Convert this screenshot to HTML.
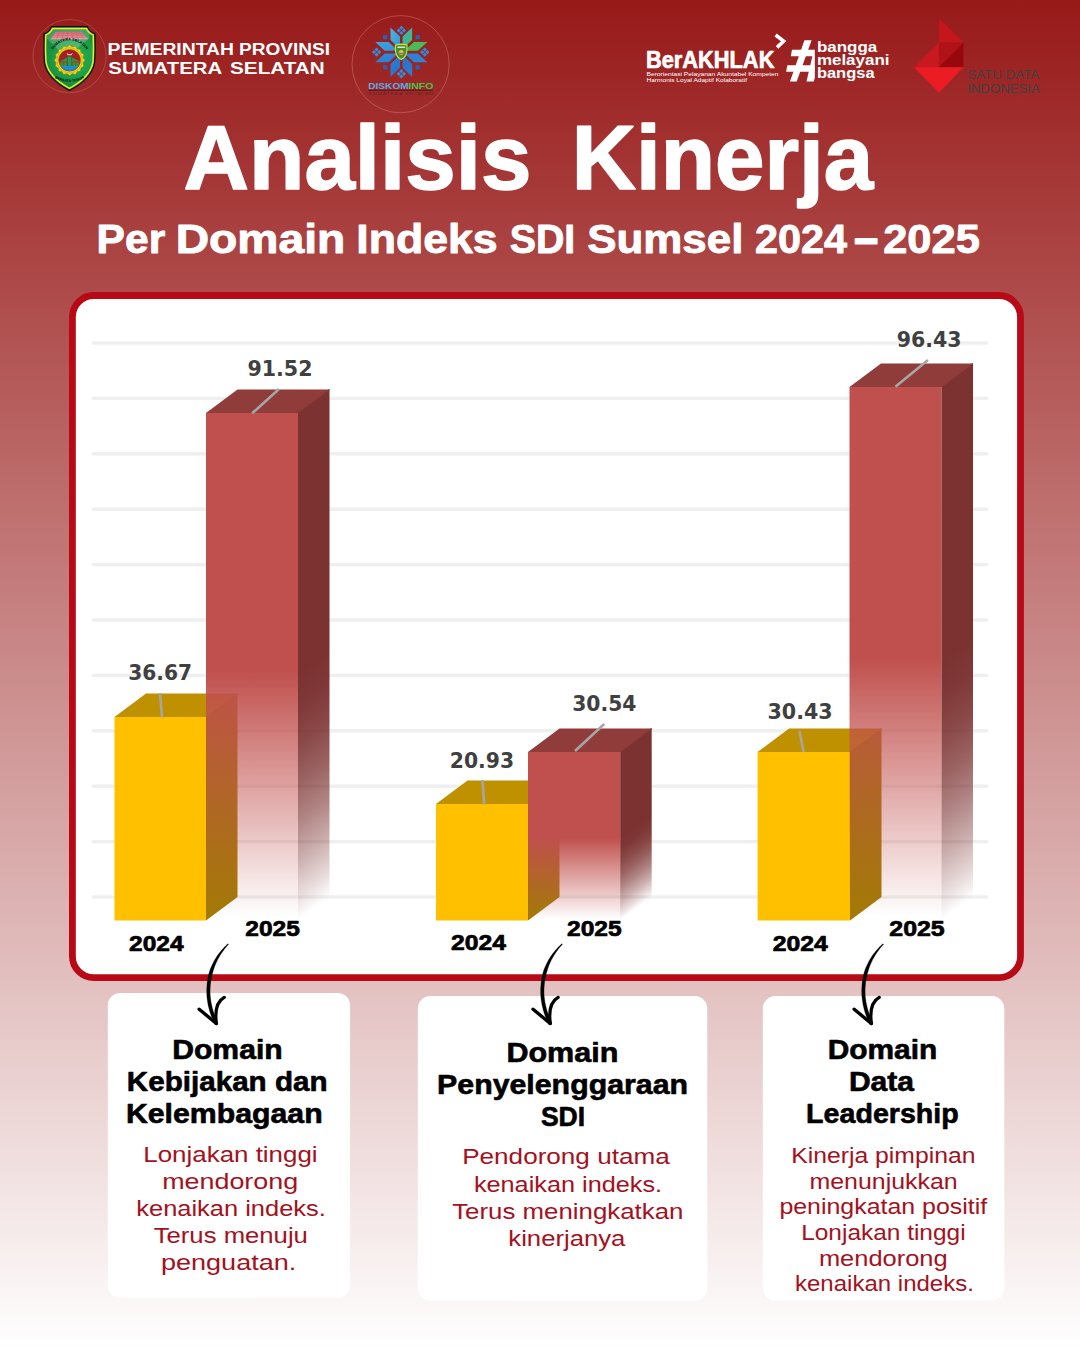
<!DOCTYPE html>
<html lang="id">
<head>
<meta charset="utf-8">
<title>Analisis Kinerja Per Domain Indeks SDI Sumsel 2024-2025</title>
<style>
html,body{margin:0;padding:0;}
body{width:1080px;height:1350px;overflow:hidden;background:#fff;font-family:"Liberation Sans",sans-serif;}
#poster{position:relative;width:1080px;height:1350px;overflow:hidden;background:linear-gradient(180deg,#971918 0%,#ffffff 100%);}
#poster svg{position:absolute;left:0;top:0;display:block;}
text{white-space:pre;}
</style>
</head>
<body>
<div id="poster">
<svg width="1080" height="1350" viewBox="0 0 1080 1350">

<defs>
<linearGradient id="rf0" gradientUnits="userSpaceOnUse" x1="0" y1="670.9" x2="0" y2="916.5"><stop offset="0" stop-color="#c0504d" stop-opacity="1"/><stop offset="1" stop-color="#c0504d" stop-opacity="0"/></linearGradient>
<linearGradient id="rs0" gradientUnits="userSpaceOnUse" x1="298.0" y1="670.9" x2="417.9" y2="830.7"><stop offset="0.00" stop-color="#7b3231" stop-opacity="1.000"/><stop offset="0.15" stop-color="#7b3231" stop-opacity="0.967"/><stop offset="0.30" stop-color="#7b3231" stop-opacity="0.885"/><stop offset="0.45" stop-color="#7b3231" stop-opacity="0.762"/><stop offset="0.60" stop-color="#7b3231" stop-opacity="0.601"/><stop offset="0.75" stop-color="#7b3231" stop-opacity="0.404"/><stop offset="0.90" stop-color="#7b3231" stop-opacity="0.173"/><stop offset="1.00" stop-color="#7b3231" stop-opacity="0.000"/></linearGradient>
<linearGradient id="rf1" gradientUnits="userSpaceOnUse" x1="0" y1="837.6" x2="0" y2="919.3"><stop offset="0" stop-color="#c0504d" stop-opacity="1"/><stop offset="1" stop-color="#c0504d" stop-opacity="0"/></linearGradient>
<linearGradient id="rs1" gradientUnits="userSpaceOnUse" x1="620.2" y1="837.6" x2="660.0" y2="890.7"><stop offset="0.00" stop-color="#7b3231" stop-opacity="1.000"/><stop offset="0.15" stop-color="#7b3231" stop-opacity="0.967"/><stop offset="0.30" stop-color="#7b3231" stop-opacity="0.885"/><stop offset="0.45" stop-color="#7b3231" stop-opacity="0.762"/><stop offset="0.60" stop-color="#7b3231" stop-opacity="0.601"/><stop offset="0.75" stop-color="#7b3231" stop-opacity="0.404"/><stop offset="0.90" stop-color="#7b3231" stop-opacity="0.173"/><stop offset="1.00" stop-color="#7b3231" stop-opacity="0.000"/></linearGradient>
<linearGradient id="rf2" gradientUnits="userSpaceOnUse" x1="0" y1="658.1" x2="0" y2="916.3"><stop offset="0" stop-color="#c0504d" stop-opacity="1"/><stop offset="1" stop-color="#c0504d" stop-opacity="0"/></linearGradient>
<linearGradient id="rs2" gradientUnits="userSpaceOnUse" x1="941.5" y1="658.1" x2="1067.5" y2="826.1"><stop offset="0.00" stop-color="#7b3231" stop-opacity="1.000"/><stop offset="0.15" stop-color="#7b3231" stop-opacity="0.967"/><stop offset="0.30" stop-color="#7b3231" stop-opacity="0.885"/><stop offset="0.45" stop-color="#7b3231" stop-opacity="0.762"/><stop offset="0.60" stop-color="#7b3231" stop-opacity="0.601"/><stop offset="0.75" stop-color="#7b3231" stop-opacity="0.404"/><stop offset="0.90" stop-color="#7b3231" stop-opacity="0.173"/><stop offset="1.00" stop-color="#7b3231" stop-opacity="0.000"/></linearGradient>
</defs>
<defs><radialGradient id="shg" gradientUnits="userSpaceOnUse" cx="74" cy="58" r="34"><stop offset="0" stop-color="#22b45c"/><stop offset="0.55" stop-color="#1ba04a"/><stop offset="1" stop-color="#148238"/></radialGradient><linearGradient id="roofg" x1="0" y1="0" x2="0" y2="1"><stop offset="0" stop-color="#c84a58"/><stop offset="1" stop-color="#ee8a96"/></linearGradient><linearGradient id="dk0" x1="0" y1="0" x2="1" y2="1"><stop offset="0" stop-color="#4fbf4f"/><stop offset="1" stop-color="#3fb860"/></linearGradient><linearGradient id="dk1" x1="0" y1="0" x2="1" y2="1"><stop offset="0" stop-color="#37b3c4"/><stop offset="1" stop-color="#45bb62"/></linearGradient><linearGradient id="dk2" x1="0" y1="0" x2="1" y2="1"><stop offset="0" stop-color="#46b4e6"/><stop offset="1" stop-color="#2f9bd8"/></linearGradient><linearGradient id="dk3" x1="0" y1="0" x2="1" y2="1"><stop offset="0" stop-color="#3aa6e2"/><stop offset="1" stop-color="#2f94d6"/></linearGradient><linearGradient id="dk4" x1="0" y1="0" x2="1" y2="1"><stop offset="0" stop-color="#2f8ad8"/><stop offset="1" stop-color="#2a7ed2"/></linearGradient><linearGradient id="dk5" x1="0" y1="0" x2="1" y2="1"><stop offset="0" stop-color="#2a7ed2"/><stop offset="1" stop-color="#2872c8"/></linearGradient><linearGradient id="dk6" x1="0" y1="0" x2="1" y2="1"><stop offset="0" stop-color="#2872c8"/><stop offset="1" stop-color="#2a7ed2"/></linearGradient><linearGradient id="dk7" x1="0" y1="0" x2="1" y2="1"><stop offset="0" stop-color="#2a80d6"/><stop offset="1" stop-color="#2b86d8"/></linearGradient></defs>
<g id="logos">
<g id="logo-sumsel">
<circle cx="69.6" cy="56.1" r="36.6" fill="none" stroke="#ffffff" stroke-opacity="0.16" stroke-width="1"/>
<path d="M51.6 26.6 L87.4 26.6 C88.6 30.2 91 32.6 94.9 33.6 C95.2 44 95.4 54 94.6 62.5 C92.6 74.5 82 84 69.5 90.4 C57 84 46.4 74.5 44.4 62.5 C43.6 54 43.8 44 44.1 33.6 C48 32.6 50.4 30.2 51.6 26.6 Z" fill="url(#shg)" stroke="#0c0c0c" stroke-width="1.2" stroke-linejoin="round"/>
<path d="M52.6 28.4 L86.4 28.4 C87.8 31.6 90 33.8 93.2 34.9 C93.5 44.5 93.6 54 92.9 62.2 C91 73.4 81 82.2 69.5 88.3 C58 82.2 48 73.4 46.1 62.2 C45.4 54 45.5 44.5 45.8 34.9 C49 33.8 51.2 31.6 52.6 28.4 Z" fill="none" stroke="#f2ea1c" stroke-width="1.5" stroke-linejoin="round"/>
<path d="M55.6 31.7 L81.1 31.7 L88.5 39.2 L50.7 39.2 Z" fill="url(#roofg)"/>
<path d="M54.4 33.6 H83 M52.8 35.5 H84.8 M51.6 37.3 H86.6 M59.6 31.7 L56.4 39.2 M63.6 31.7 L62 39.2 M67.6 31.7 L67.4 39.2 M71.6 31.7 L72.8 39.2 M75.6 31.7 L78.2 39.2 M79 31.7 L83.6 39.2" stroke="#b3303b" stroke-width="0.5" fill="none"/>
<path d="M46.6 35.4 C49.4 34.2 51.6 32 53 29.1 L86 29.1 C86.8 30.9 87.9 32.3 89.2 33.4 L89.2 38.5 L66 57 L46.6 38.5 Z" fill="#ffffff" fill-opacity="0.2"/>
<path id="arcS" d="M50.6 54.8 A19.6 19.6 0 0 1 88.4 54.8" fill="none"/>
<text font-size="3.7" font-weight="bold" fill="#000" font-family='"Liberation Sans", sans-serif' letter-spacing="0.1"><textPath href="#arcS" startOffset="50%" text-anchor="middle">SUMATERA SELATAN</textPath></text>
<polygon points="84.9,60.3 82.9,63.0 83.7,66.2 80.9,67.9 80.4,71.1 77.2,71.6 75.5,74.4 72.3,73.6 69.6,75.6 66.9,73.6 63.7,74.4 62.0,71.6 58.8,71.1 58.3,67.9 55.5,66.2 56.3,63.0 54.3,60.3 56.3,57.6 55.5,54.4 58.3,52.7 58.8,49.5 62.0,49.0 63.7,46.2 66.9,47.0 69.6,45.0 72.3,47.0 75.5,46.2 77.2,49.0 80.4,49.5 80.9,52.7 83.7,54.4 82.9,57.6" fill="#f0dc1e" stroke="#a47a10" stroke-width="0.5"/>
<circle cx="69.6" cy="60.3" r="12.6" fill="none" stroke="#c9a012" stroke-width="0.7"/>
<circle cx="69.6" cy="60.3" r="10.9" fill="#a81c24" stroke="#7a5b0a" stroke-width="0.5"/>
<clipPath id="ringclip"><circle cx="69.6" cy="60.3" r="10.6"/></clipPath>
<g clip-path="url(#ringclip)">
<rect x="58" y="66" width="24" height="6.2" fill="#1b97e6"/>
<path d="M59 67.6 H80 M59 69.4 H80" stroke="#0d5fb0" stroke-width="0.5" stroke-dasharray="1.1 0.7"/>
<rect x="58" y="61.4" width="24" height="2.1" fill="#e02028"/>
<path d="M59 61.4 L67.4 57.6 L67.4 61.4 Z M80.2 61.4 L71.8 57.6 L71.8 61.4 Z" fill="#1f9e4a"/>
<path d="M60 66 V63.8 A1.6 1.6 0 0 1 63.2 63.8 V66 Z M63.6 66 V63.8 A1.6 1.6 0 0 1 66.8 63.8 V66 Z M72.4 66 V63.8 A1.6 1.6 0 0 1 75.6 63.8 V66 Z M76 66 V63.8 A1.6 1.6 0 0 1 79.2 63.8 V66 Z" fill="#1f9e4a"/>
<rect x="67.7" y="56.4" width="3.8" height="9.6" fill="#22a04c" stroke="#0f6a2c" stroke-width="0.3"/>
<path d="M66.3 52.4 L67.6 55.2 H71.6 L72.9 52.4 L71 54 H68.2 Z" fill="#f3c9cc"/>
</g>
<path id="arcB" d="M53.6 77.6 Q69.5 86.4 85.4 77.6" fill="none"/>
<text font-size="3.6" font-weight="bold" fill="#000" font-family='"Liberation Sans", sans-serif'><textPath href="#arcB" startOffset="50%" text-anchor="middle">BERSATU TEGUH</textPath></text>
</g>
<text x="107.6" y="54.6" font-size="17.2" font-weight="bold" fill="#fff" font-family='"Liberation Sans", sans-serif' textLength="126.4" lengthAdjust="spacingAndGlyphs">PEMERINTAH</text>
<text x="239.1" y="54.6" font-size="17.2" font-weight="bold" fill="#fff" font-family='"Liberation Sans", sans-serif' textLength="91.0" lengthAdjust="spacingAndGlyphs">PROVINSI</text>
<text x="108.3" y="73.9" font-size="17.2" font-weight="bold" fill="#fff" font-family='"Liberation Sans", sans-serif' textLength="114.0" lengthAdjust="spacingAndGlyphs">SUMATERA</text>
<text x="230.1" y="73.9" font-size="17.2" font-weight="bold" fill="#fff" font-family='"Liberation Sans", sans-serif' textLength="94.5" lengthAdjust="spacingAndGlyphs">SELATAN</text>
<g id="logo-diskominfo">
<circle cx="400.6" cy="64.2" r="48.6" fill="none" stroke="#f4c9c9" stroke-opacity="0.3" stroke-width="0.9"/>
<polygon points="404.5,50.8 417.9,50.8 427.3,41.9 413.9,41.9" fill="url(#dk0)"/>
<polygon points="402.6,49.1 412.1,40.1 412.1,27.4 402.6,36.4" fill="url(#dk1)"/>
<polygon points="400.0,49.1 400.0,36.4 390.5,27.4 390.5,40.1" fill="url(#dk2)"/>
<polygon points="398.1,50.8 388.7,41.9 375.3,41.9 384.7,50.8" fill="url(#dk3)"/>
<polygon points="398.1,53.4 384.7,53.4 375.3,62.3 388.7,62.3" fill="url(#dk4)"/>
<polygon points="400.0,55.1 390.5,64.1 390.5,76.8 400.0,67.8" fill="url(#dk5)"/>
<polygon points="402.6,55.1 402.6,67.8 412.1,76.8 412.1,64.1" fill="url(#dk6)"/>
<polygon points="404.5,53.4 413.9,62.3 427.3,62.3 417.9,53.4" fill="url(#dk7)"/>
<rect x="383.0" y="35.1" width="4.2" height="4.2" fill="#2464b8"/>
<rect x="415.6" y="35.1" width="4.2" height="4.2" fill="#2464b8"/>
<rect x="383.0" y="65.2" width="4.2" height="4.2" fill="#2464b8"/>
<rect x="415.6" y="65.2" width="4.2" height="4.2" fill="#2464b8"/>
<rect x="399.80" y="26.30" width="3" height="3" fill="#2f8fdf" transform="rotate(45 401.30 27.80)"/>
<rect x="397.20" y="28.90" width="3" height="3" fill="#2f8fdf" transform="rotate(45 398.70 30.40)"/>
<rect x="402.40" y="28.90" width="3" height="3" fill="#2f8fdf" transform="rotate(45 403.90 30.40)"/>
<rect x="399.80" y="31.50" width="3" height="3" fill="#2f8fdf" transform="rotate(45 401.30 33.00)"/>
<rect x="375.10" y="48.00" width="3" height="3" fill="#2f8fdf" transform="rotate(45 376.60 49.50)"/>
<rect x="372.50" y="50.60" width="3" height="3" fill="#2f8fdf" transform="rotate(45 374.00 52.10)"/>
<rect x="377.70" y="50.60" width="3" height="3" fill="#2f8fdf" transform="rotate(45 379.20 52.10)"/>
<rect x="375.10" y="53.20" width="3" height="3" fill="#2f8fdf" transform="rotate(45 376.60 54.70)"/>
<rect x="423.20" y="48.00" width="3" height="3" fill="#2f8fdf" transform="rotate(45 424.70 49.50)"/>
<rect x="420.60" y="50.60" width="3" height="3" fill="#2f8fdf" transform="rotate(45 422.10 52.10)"/>
<rect x="425.80" y="50.60" width="3" height="3" fill="#2f8fdf" transform="rotate(45 427.30 52.10)"/>
<rect x="423.20" y="53.20" width="3" height="3" fill="#2f8fdf" transform="rotate(45 424.70 54.70)"/>
<rect x="399.80" y="69.70" width="3" height="3" fill="#2f8fdf" transform="rotate(45 401.30 71.20)"/>
<rect x="397.20" y="72.30" width="3" height="3" fill="#2f8fdf" transform="rotate(45 398.70 73.80)"/>
<rect x="402.40" y="72.30" width="3" height="3" fill="#2f8fdf" transform="rotate(45 403.90 73.80)"/>
<rect x="399.80" y="74.90" width="3" height="3" fill="#2f8fdf" transform="rotate(45 401.30 76.40)"/>
<g transform="translate(0.1,0.4)"><path d="M395.3 44.6 L401.1 43.7 L406.9 44.6 C407.1 50 406.6 54 405 56 C403.8 57.7 402.4 58.5 401.1 59.2 C399.8 58.5 398.4 57.7 397.2 56 C395.6 54 395.1 50 395.3 44.6 Z" fill="#2a9a3c" stroke="#dfe02a" stroke-width="1.1"/>
<path d="M397.6 46 H404.6 L405.2 47.6 H397 Z" fill="#e8e0d0"/>
<circle cx="401.1" cy="52" r="2.9" fill="#e4d21f" stroke="#b5322a" stroke-width="0.7"/>
<path d="M399 52.3 H403.2 V53.6 H399 Z" fill="#2f8fd6"/></g>
<text x="368.2" y="88.5" font-size="8.7" font-weight="bold" fill="#58abe4" font-family='"Liberation Sans", sans-serif' textLength="40.5" lengthAdjust="spacingAndGlyphs">DISKOM</text>
<text x="408.2" y="88.5" font-size="8.7" font-weight="bold" fill="#44c648" font-family='"Liberation Sans", sans-serif' textLength="25.3" lengthAdjust="spacingAndGlyphs">INFO</text>
<rect x="368.3" y="89.8" width="64.6" height="0.9" fill="#571115"/>
<text x="368.7" y="95.4" font-size="4.2" font-weight="normal" fill="#5c2327" font-family='"Liberation Sans", sans-serif' textLength="64.8" lengthAdjust="spacingAndGlyphs" letter-spacing="0.6" fill-opacity="0.9">SUMATERA SELATAN</text>
</g>
<g id="logo-berakhlak">
<text x="645.9" y="67.5" font-size="23.6" font-weight="bold" fill="#fff" font-family='"Liberation Sans", sans-serif' textLength="128.5" lengthAdjust="spacingAndGlyphs" stroke="#fff" stroke-width="0.7" stroke-linejoin="round">BerAKHLAK</text>
<path d="M775.6 35 L783.6 41.2 L777 47.4" fill="none" stroke="#fff" stroke-width="3.6" stroke-linejoin="miter"/>
<text x="646.5" y="75.6" font-size="5.1" font-weight="normal" fill="#fff" font-family='"Liberation Sans", sans-serif' textLength="132.0" lengthAdjust="spacingAndGlyphs">Berorientasi Pelayanan Akuntabel Kompeten</text>
<text x="646.5" y="82.0" font-size="5.1" font-weight="normal" fill="#fff" font-family='"Liberation Sans", sans-serif' textLength="100.5" lengthAdjust="spacingAndGlyphs">Harmonis Loyal Adaptif Kolaboratif</text>
<g fill="#fff"><polygon points="804.4,40.3 811.6,40.3 796.7,81.4 790,81.4"/><polygon points="792,49.7 814.8,49.7 814.8,56.2 790.8,56.2"/><polygon points="787.3,65.3 814.7,65.3 814.7,71.7 786.1,71.7"/><polygon points="812.4,56 814.8,56 814.8,77.8 813.8,81.4 806.5,81.4"/></g>
<text x="816.9" y="51.6" font-size="15.4" font-weight="bold" fill="#fff" font-family='"Liberation Sans", sans-serif' textLength="60.3" lengthAdjust="spacingAndGlyphs">bangga</text>
<text x="816.9" y="65.2" font-size="15.4" font-weight="bold" fill="#fff" font-family='"Liberation Sans", sans-serif' textLength="72.6" lengthAdjust="spacingAndGlyphs">melayani</text>
<text x="816.9" y="78.2" font-size="15.4" font-weight="bold" fill="#fff" font-family='"Liberation Sans", sans-serif' textLength="57.7" lengthAdjust="spacingAndGlyphs">bangsa</text>
</g>
<g id="logo-satudata">
<polygon points="938.9,17.9 963.5,42.5 938.9,42.5" fill="#c4161c"/>
<polygon points="938.9,42.5 963.5,42.5 938.9,67.2" fill="#b01217"/>
<polygon points="963.5,42.5 963.5,67.2 938.9,67.2" fill="#96080c"/>
<polygon points="938.9,42.5 938.9,67.2 914.1,67.2" fill="#c7191f"/>
<polygon points="914.1,67.2 963.5,67.2 938.9,92.7" fill="#ec1c24"/>
<text x="967.3" y="79.0" font-size="13.3" font-weight="normal" fill="#414042" font-family='"Liberation Sans", sans-serif' textLength="71.9" lengthAdjust="spacingAndGlyphs">SATU DATA</text>
<text x="967.2" y="93.0" font-size="13.3" font-weight="normal" fill="#414042" font-family='"Liberation Sans", sans-serif' textLength="72.5" lengthAdjust="spacingAndGlyphs">INDONESIA</text>
</g>
</g>
<g id="title">
<text x="183.5" y="188.9" font-size="90.5" font-weight="bold" fill="#fff" font-family='"Liberation Sans", sans-serif' textLength="347.9" lengthAdjust="spacingAndGlyphs" stroke="#fff" stroke-width="1.6" stroke-linejoin="round">Analisis</text>
<text x="571.8" y="188.9" font-size="90.5" font-weight="bold" fill="#fff" font-family='"Liberation Sans", sans-serif' textLength="301.3" lengthAdjust="spacingAndGlyphs" stroke="#fff" stroke-width="1.6" stroke-linejoin="round">Kinerja</text>
<text x="96.6" y="252.6" font-size="41" font-weight="bold" fill="#fff" font-family='"Liberation Sans", sans-serif' textLength="68.6" lengthAdjust="spacingAndGlyphs" stroke="#fff" stroke-width="0.9" stroke-linejoin="round">Per</text>
<text x="175.7" y="252.6" font-size="41" font-weight="bold" fill="#fff" font-family='"Liberation Sans", sans-serif' textLength="169.7" lengthAdjust="spacingAndGlyphs" stroke="#fff" stroke-width="0.9" stroke-linejoin="round">Domain</text>
<text x="356.3" y="252.6" font-size="41" font-weight="bold" fill="#fff" font-family='"Liberation Sans", sans-serif' textLength="141.4" lengthAdjust="spacingAndGlyphs" stroke="#fff" stroke-width="0.9" stroke-linejoin="round">Indeks</text>
<text x="509.7" y="252.6" font-size="41" font-weight="bold" fill="#fff" font-family='"Liberation Sans", sans-serif' textLength="65.6" lengthAdjust="spacingAndGlyphs" stroke="#fff" stroke-width="0.9" stroke-linejoin="round">SDI</text>
<text x="587.2" y="252.6" font-size="41" font-weight="bold" fill="#fff" font-family='"Liberation Sans", sans-serif' textLength="156.2" lengthAdjust="spacingAndGlyphs" stroke="#fff" stroke-width="0.9" stroke-linejoin="round">Sumsel</text>
<text x="755.0" y="252.6" font-size="41" font-weight="bold" fill="#fff" font-family='"Liberation Sans", sans-serif' textLength="92.0" lengthAdjust="spacingAndGlyphs" stroke="#fff" stroke-width="0.9" stroke-linejoin="round">2024</text>
<text x="852.3" y="252.6" font-size="46" font-weight="bold" fill="#fff" font-family='"Liberation Sans", sans-serif' textLength="27.9" lengthAdjust="spacingAndGlyphs" stroke="#fff" stroke-width="0.9" stroke-linejoin="round">-</text>
<text x="883.2" y="252.6" font-size="41" font-weight="bold" fill="#fff" font-family='"Liberation Sans", sans-serif' textLength="96.7" lengthAdjust="spacingAndGlyphs" stroke="#fff" stroke-width="0.9" stroke-linejoin="round">2025</text>
</g>
<g id="chart-panel">
<rect x="72.4" y="295.5" width="948.1" height="682.2" rx="21.5" fill="#fff" stroke="#b80916" stroke-width="6.8"/>
<rect x="92" y="341.3" width="896" height="3.4" fill="#efefef"/>
<rect x="92" y="396.7" width="896" height="3.4" fill="#efefef"/>
<rect x="92" y="452.1" width="896" height="3.4" fill="#efefef"/>
<rect x="92" y="507.5" width="896" height="3.4" fill="#efefef"/>
<rect x="92" y="562.9" width="896" height="3.4" fill="#efefef"/>
<rect x="92" y="618.3" width="896" height="3.4" fill="#efefef"/>
<rect x="92" y="673.7" width="896" height="3.4" fill="#efefef"/>
<rect x="92" y="729.1" width="896" height="3.4" fill="#efefef"/>
<rect x="92" y="784.5" width="896" height="3.4" fill="#efefef"/>
<rect x="92" y="839.9" width="896" height="3.4" fill="#efefef"/>
<rect x="92" y="895.3" width="896" height="3.4" fill="#efefef"/>
<path d="M206.0 717.0 L237.5 693.4" stroke="#b08505" stroke-width="1.2" fill="none"/>
<polygon points="114.5,717.0 206.0,717.0 206.0,920.6 114.5,920.6" fill="#ffc000"/>
<polygon points="114.5,717.0 146.0,693.4 237.5,693.4 206.0,717.0" fill="#bf9000"/>
<polygon points="206.0,717.0 237.5,693.4 237.5,897.0 206.0,920.6" fill="#a37a05"/>
<path d="M528.0 804.0 L559.5 780.4" stroke="#b08505" stroke-width="1.2" fill="none"/>
<polygon points="436.0,804.0 528.0,804.0 528.0,920.6 436.0,920.6" fill="#ffc000"/>
<polygon points="436.0,804.0 467.5,780.4 559.5,780.4 528.0,804.0" fill="#bf9000"/>
<polygon points="528.0,804.0 559.5,780.4 559.5,897.0 528.0,920.6" fill="#a37a05"/>
<path d="M850.0 752.0 L881.5 728.4" stroke="#b08505" stroke-width="1.2" fill="none"/>
<polygon points="757.6,752.0 850.0,752.0 850.0,920.6 757.6,920.6" fill="#ffc000"/>
<polygon points="757.6,752.0 789.1,728.4 881.5,728.4 850.0,752.0" fill="#bf9000"/>
<polygon points="850.0,752.0 881.5,728.4 881.5,897.0 850.0,920.6" fill="#a37a05"/>
<g><path d="M298.0 413.0 L329.5 389.4" stroke="#853735" stroke-width="1.2" fill="none"/>
<polygon points="206.0,413.0 298.0,413.0 298.0,920.6 206.0,920.6" fill="url(#rf0)"/>
<polygon points="206.0,413.0 237.5,389.4 329.5,389.4 298.0,413.0" fill="#903c3a"/>
<polygon points="298.0,413.0 329.5,389.4 329.5,897.0 298.0,920.6" fill="url(#rs0)"/></g>
<g><path d="M620.2 752.0 L651.7 728.4" stroke="#853735" stroke-width="1.2" fill="none"/>
<polygon points="528.0,752.0 620.2,752.0 620.2,920.6 528.0,920.6" fill="url(#rf1)"/>
<polygon points="528.0,752.0 559.5,728.4 651.7,728.4 620.2,752.0" fill="#903c3a"/>
<polygon points="620.2,752.0 651.7,728.4 651.7,897.0 620.2,920.6" fill="url(#rs1)"/></g>
<g><path d="M941.5 387.0 L973.0 363.4" stroke="#853735" stroke-width="1.2" fill="none"/>
<polygon points="849.5,387.0 941.5,387.0 941.5,920.6 849.5,920.6" fill="url(#rf2)"/>
<polygon points="849.5,387.0 881.0,363.4 973.0,363.4 941.5,387.0" fill="#903c3a"/>
<polygon points="941.5,387.0 973.0,363.4 973.0,897.0 941.5,920.6" fill="url(#rs2)"/></g>
<line x1="160" y1="693" x2="162" y2="717.5" stroke="#a6a6a6" stroke-width="2.6" stroke-linecap="butt"/>
<line x1="279" y1="389" x2="252.2" y2="413.3" stroke="#a6a6a6" stroke-width="2.6" stroke-linecap="butt"/>
<line x1="482.5" y1="780" x2="484.2" y2="804.4" stroke="#a6a6a6" stroke-width="2.6" stroke-linecap="butt"/>
<line x1="604.2" y1="724" x2="575" y2="751" stroke="#a6a6a6" stroke-width="2.6" stroke-linecap="butt"/>
<line x1="799.4" y1="731" x2="803.6" y2="752" stroke="#a6a6a6" stroke-width="2.6" stroke-linecap="butt"/>
<line x1="928" y1="360" x2="895.4" y2="386.8" stroke="#a6a6a6" stroke-width="2.6" stroke-linecap="butt"/>
<text x="128.3" y="680.4" font-size="21.6" font-weight="bold" fill="#404040" font-family='"DejaVu Sans", "Liberation Sans", sans-serif' textLength="63.8" lengthAdjust="spacingAndGlyphs">36.67</text>
<text x="247.4" y="376.3" font-size="21.6" font-weight="bold" fill="#404040" font-family='"DejaVu Sans", "Liberation Sans", sans-serif' textLength="65.1" lengthAdjust="spacingAndGlyphs">91.52</text>
<text x="449.8" y="767.8" font-size="21.6" font-weight="bold" fill="#404040" font-family='"DejaVu Sans", "Liberation Sans", sans-serif' textLength="64.3" lengthAdjust="spacingAndGlyphs">20.93</text>
<text x="572.2" y="711.4" font-size="21.6" font-weight="bold" fill="#404040" font-family='"DejaVu Sans", "Liberation Sans", sans-serif' textLength="64.3" lengthAdjust="spacingAndGlyphs">30.54</text>
<text x="767.5" y="718.5" font-size="21.6" font-weight="bold" fill="#404040" font-family='"DejaVu Sans", "Liberation Sans", sans-serif' textLength="65.2" lengthAdjust="spacingAndGlyphs">30.43</text>
<text x="896.7" y="347.4" font-size="21.6" font-weight="bold" fill="#404040" font-family='"DejaVu Sans", "Liberation Sans", sans-serif' textLength="64.9" lengthAdjust="spacingAndGlyphs">96.43</text>
<text x="129.1" y="950.5" font-size="22.6" font-weight="bold" fill="#000" font-family='"Liberation Sans", sans-serif' textLength="54.5" lengthAdjust="spacingAndGlyphs" stroke="#000" stroke-width="0.7" stroke-linejoin="round">2024</text>
<text x="245.3" y="936.3" font-size="22.6" font-weight="bold" fill="#000" font-family='"Liberation Sans", sans-serif' textLength="54.5" lengthAdjust="spacingAndGlyphs" stroke="#000" stroke-width="0.7" stroke-linejoin="round">2025</text>
<text x="450.9" y="950.4" font-size="22.6" font-weight="bold" fill="#000" font-family='"Liberation Sans", sans-serif' textLength="55.0" lengthAdjust="spacingAndGlyphs" stroke="#000" stroke-width="0.7" stroke-linejoin="round">2024</text>
<text x="567.0" y="936.4" font-size="22.6" font-weight="bold" fill="#000" font-family='"Liberation Sans", sans-serif' textLength="54.7" lengthAdjust="spacingAndGlyphs" stroke="#000" stroke-width="0.7" stroke-linejoin="round">2025</text>
<text x="772.8" y="950.5" font-size="22.6" font-weight="bold" fill="#000" font-family='"Liberation Sans", sans-serif' textLength="55.1" lengthAdjust="spacingAndGlyphs" stroke="#000" stroke-width="0.7" stroke-linejoin="round">2024</text>
<text x="889.3" y="936.3" font-size="22.6" font-weight="bold" fill="#000" font-family='"Liberation Sans", sans-serif' textLength="55.4" lengthAdjust="spacingAndGlyphs" stroke="#000" stroke-width="0.7" stroke-linejoin="round">2025</text>
</g>
<g id="cards">
<rect x="107.8" y="992.9" width="242.3" height="304.9" rx="12.5" fill="#fff"/>
<rect x="417.8" y="996.1" width="289.5" height="304.6" rx="12.5" fill="#fff"/>
<rect x="762.8" y="996.1" width="241.5" height="304.6" rx="12.5" fill="#fff"/>
<text x="172.2" y="1058.7" font-size="27.2" font-weight="bold" fill="#000" font-family='"Liberation Sans", sans-serif' textLength="110.5" lengthAdjust="spacingAndGlyphs" stroke="#000" stroke-width="0.6" stroke-linejoin="round">Domain</text>
<text x="126.8" y="1091.0" font-size="27.2" font-weight="bold" fill="#000" font-family='"Liberation Sans", sans-serif' textLength="200.8" lengthAdjust="spacingAndGlyphs" stroke="#000" stroke-width="0.6" stroke-linejoin="round">Kebijakan dan</text>
<text x="125.9" y="1123.0" font-size="27.2" font-weight="bold" fill="#000" font-family='"Liberation Sans", sans-serif' textLength="196.8" lengthAdjust="spacingAndGlyphs" stroke="#000" stroke-width="0.6" stroke-linejoin="round">Kelembagaan</text>
<text x="506.4" y="1062.2" font-size="27.2" font-weight="bold" fill="#000" font-family='"Liberation Sans", sans-serif' textLength="112.0" lengthAdjust="spacingAndGlyphs" stroke="#000" stroke-width="0.6" stroke-linejoin="round">Domain</text>
<text x="437.1" y="1094.4" font-size="27.2" font-weight="bold" fill="#000" font-family='"Liberation Sans", sans-serif' textLength="250.9" lengthAdjust="spacingAndGlyphs" stroke="#000" stroke-width="0.6" stroke-linejoin="round">Penyelenggaraan</text>
<text x="540.9" y="1126.1" font-size="27.2" font-weight="bold" fill="#000" font-family='"Liberation Sans", sans-serif' textLength="44.3" lengthAdjust="spacingAndGlyphs" stroke="#000" stroke-width="0.6" stroke-linejoin="round">SDI</text>
<text x="827.7" y="1058.9" font-size="27.2" font-weight="bold" fill="#000" font-family='"Liberation Sans", sans-serif' textLength="109.6" lengthAdjust="spacingAndGlyphs" stroke="#000" stroke-width="0.6" stroke-linejoin="round">Domain</text>
<text x="848.9" y="1090.7" font-size="27.2" font-weight="bold" fill="#000" font-family='"Liberation Sans", sans-serif' textLength="65.2" lengthAdjust="spacingAndGlyphs" stroke="#000" stroke-width="0.6" stroke-linejoin="round">Data</text>
<text x="806.1" y="1122.7" font-size="27.2" font-weight="bold" fill="#000" font-family='"Liberation Sans", sans-serif' textLength="152.7" lengthAdjust="spacingAndGlyphs" stroke="#000" stroke-width="0.6" stroke-linejoin="round">Leadership</text>
<text x="143.3" y="1162.4" font-size="22.8" font-weight="normal" fill="#a5101d" font-family='"Liberation Sans", sans-serif' textLength="174.3" lengthAdjust="spacingAndGlyphs">Lonjakan tinggi</text>
<text x="162.2" y="1189.3" font-size="22.8" font-weight="normal" fill="#a5101d" font-family='"Liberation Sans", sans-serif' textLength="136.0" lengthAdjust="spacingAndGlyphs">mendorong</text>
<text x="136.3" y="1216.2" font-size="22.8" font-weight="normal" fill="#a5101d" font-family='"Liberation Sans", sans-serif' textLength="189.5" lengthAdjust="spacingAndGlyphs">kenaikan indeks.</text>
<text x="153.7" y="1243.1" font-size="22.8" font-weight="normal" fill="#a5101d" font-family='"Liberation Sans", sans-serif' textLength="154.2" lengthAdjust="spacingAndGlyphs">Terus menuju</text>
<text x="160.9" y="1270.0" font-size="22.8" font-weight="normal" fill="#a5101d" font-family='"Liberation Sans", sans-serif' textLength="135.5" lengthAdjust="spacingAndGlyphs">penguatan.</text>
<text x="462.2" y="1164.3" font-size="22.8" font-weight="normal" fill="#a5101d" font-family='"Liberation Sans", sans-serif' textLength="207.5" lengthAdjust="spacingAndGlyphs">Pendorong utama</text>
<text x="473.9" y="1191.5" font-size="22.8" font-weight="normal" fill="#a5101d" font-family='"Liberation Sans", sans-serif' textLength="188.2" lengthAdjust="spacingAndGlyphs">kenaikan indeks.</text>
<text x="452.2" y="1218.6" font-size="22.8" font-weight="normal" fill="#a5101d" font-family='"Liberation Sans", sans-serif' textLength="231.2" lengthAdjust="spacingAndGlyphs">Terus meningkatkan</text>
<text x="508.3" y="1245.7" font-size="22.8" font-weight="normal" fill="#a5101d" font-family='"Liberation Sans", sans-serif' textLength="117.1" lengthAdjust="spacingAndGlyphs">kinerjanya</text>
<text x="791.2" y="1163.3" font-size="21.4" font-weight="normal" fill="#a5101d" font-family='"Liberation Sans", sans-serif' textLength="184.3" lengthAdjust="spacingAndGlyphs">Kinerja pimpinan</text>
<text x="809.5" y="1188.9" font-size="21.4" font-weight="normal" fill="#a5101d" font-family='"Liberation Sans", sans-serif' textLength="148.2" lengthAdjust="spacingAndGlyphs">menunjukkan</text>
<text x="779.4" y="1214.4" font-size="21.4" font-weight="normal" fill="#a5101d" font-family='"Liberation Sans", sans-serif' textLength="207.8" lengthAdjust="spacingAndGlyphs">peningkatan positif</text>
<text x="801.2" y="1240.0" font-size="21.4" font-weight="normal" fill="#a5101d" font-family='"Liberation Sans", sans-serif' textLength="164.4" lengthAdjust="spacingAndGlyphs">Lonjakan tinggi</text>
<text x="818.9" y="1265.6" font-size="21.4" font-weight="normal" fill="#a5101d" font-family='"Liberation Sans", sans-serif' textLength="128.8" lengthAdjust="spacingAndGlyphs">mendorong</text>
<text x="795.0" y="1290.8" font-size="21.4" font-weight="normal" fill="#a5101d" font-family='"Liberation Sans", sans-serif' textLength="178.9" lengthAdjust="spacingAndGlyphs">kenaikan indeks.</text>
</g>
<g id="arrows">
<g transform="translate(0.0,0)"><path d="M228.0 943.7 L226.8 944.8 L225.6 945.9 L224.4 947.1 L223.2 948.4 L222.0 949.7 L220.9 951.0 L219.8 952.4 L218.7 953.8 L217.6 955.3 L216.6 956.8 L215.6 958.4 L214.6 960.0 L213.7 961.7 L212.8 963.4 L212.0 965.2 L211.2 966.9 L210.4 968.8 L209.7 970.7 L209.2 972.6 L208.6 974.6 L208.1 977.2 L207.6 979.8 L207.2 982.4 L207.0 984.9 L206.8 987.5 L206.7 990.0 L206.7 992.5 L206.8 995.1 L207.0 997.5 L207.3 1000.0 L207.7 1002.5 L208.1 1005.0 L208.7 1007.4 L209.3 1009.9 L210.0 1012.3 L210.8 1014.7 L211.7 1017.1 L212.6 1019.5 L213.7 1021.9 L214.8 1024.2 L217.8 1022.8 L216.8 1020.5 L215.8 1018.2 L214.9 1015.9 L214.0 1013.6 L213.3 1011.3 L212.6 1009.0 L212.0 1006.6 L211.5 1004.3 L211.0 1001.9 L210.7 999.6 L210.4 997.2 L210.2 994.9 L210.1 992.5 L210.1 990.1 L210.2 987.7 L210.4 985.2 L210.6 982.8 L211.0 980.3 L211.4 977.9 L212.0 975.4 L212.4 973.5 L213.0 971.7 L213.5 969.9 L214.1 968.1 L214.7 966.3 L215.4 964.6 L216.1 962.9 L216.9 961.2 L217.7 959.6 L218.6 958.0 L219.4 956.5 L220.3 955.0 L221.3 953.5 L222.3 952.1 L223.3 950.7 L224.3 949.3 L225.3 948.0 L226.4 946.7 L227.5 945.5 L228.6 944.3 Z" fill="#000" stroke="#000" stroke-width="0.3" stroke-linejoin="round"/><path d="M199.2 1009.2 L 216.3 1023.5" fill="none" stroke="#000" stroke-width="3.4" stroke-linecap="round"/><path d="M224.2 997.4 C 217.6 1001, 214.6 1010, 216.3 1023.5" fill="none" stroke="#000" stroke-width="3.3" stroke-linecap="round"/></g>
<g transform="translate(333.9,0)"><path d="M228.0 943.7 L226.8 944.8 L225.6 945.9 L224.4 947.1 L223.2 948.4 L222.0 949.7 L220.9 951.0 L219.8 952.4 L218.7 953.8 L217.6 955.3 L216.6 956.8 L215.6 958.4 L214.6 960.0 L213.7 961.7 L212.8 963.4 L212.0 965.2 L211.2 966.9 L210.4 968.8 L209.7 970.7 L209.2 972.6 L208.6 974.6 L208.1 977.2 L207.6 979.8 L207.2 982.4 L207.0 984.9 L206.8 987.5 L206.7 990.0 L206.7 992.5 L206.8 995.1 L207.0 997.5 L207.3 1000.0 L207.7 1002.5 L208.1 1005.0 L208.7 1007.4 L209.3 1009.9 L210.0 1012.3 L210.8 1014.7 L211.7 1017.1 L212.6 1019.5 L213.7 1021.9 L214.8 1024.2 L217.8 1022.8 L216.8 1020.5 L215.8 1018.2 L214.9 1015.9 L214.0 1013.6 L213.3 1011.3 L212.6 1009.0 L212.0 1006.6 L211.5 1004.3 L211.0 1001.9 L210.7 999.6 L210.4 997.2 L210.2 994.9 L210.1 992.5 L210.1 990.1 L210.2 987.7 L210.4 985.2 L210.6 982.8 L211.0 980.3 L211.4 977.9 L212.0 975.4 L212.4 973.5 L213.0 971.7 L213.5 969.9 L214.1 968.1 L214.7 966.3 L215.4 964.6 L216.1 962.9 L216.9 961.2 L217.7 959.6 L218.6 958.0 L219.4 956.5 L220.3 955.0 L221.3 953.5 L222.3 952.1 L223.3 950.7 L224.3 949.3 L225.3 948.0 L226.4 946.7 L227.5 945.5 L228.6 944.3 Z" fill="#000" stroke="#000" stroke-width="0.3" stroke-linejoin="round"/><path d="M199.2 1009.2 L 216.3 1023.5" fill="none" stroke="#000" stroke-width="3.4" stroke-linecap="round"/><path d="M224.2 997.4 C 217.6 1001, 214.6 1010, 216.3 1023.5" fill="none" stroke="#000" stroke-width="3.3" stroke-linecap="round"/></g>
<g transform="translate(655.0,0)"><path d="M228.0 943.7 L226.8 944.8 L225.6 945.9 L224.4 947.1 L223.2 948.4 L222.0 949.7 L220.9 951.0 L219.8 952.4 L218.7 953.8 L217.6 955.3 L216.6 956.8 L215.6 958.4 L214.6 960.0 L213.7 961.7 L212.8 963.4 L212.0 965.2 L211.2 966.9 L210.4 968.8 L209.7 970.7 L209.2 972.6 L208.6 974.6 L208.1 977.2 L207.6 979.8 L207.2 982.4 L207.0 984.9 L206.8 987.5 L206.7 990.0 L206.7 992.5 L206.8 995.1 L207.0 997.5 L207.3 1000.0 L207.7 1002.5 L208.1 1005.0 L208.7 1007.4 L209.3 1009.9 L210.0 1012.3 L210.8 1014.7 L211.7 1017.1 L212.6 1019.5 L213.7 1021.9 L214.8 1024.2 L217.8 1022.8 L216.8 1020.5 L215.8 1018.2 L214.9 1015.9 L214.0 1013.6 L213.3 1011.3 L212.6 1009.0 L212.0 1006.6 L211.5 1004.3 L211.0 1001.9 L210.7 999.6 L210.4 997.2 L210.2 994.9 L210.1 992.5 L210.1 990.1 L210.2 987.7 L210.4 985.2 L210.6 982.8 L211.0 980.3 L211.4 977.9 L212.0 975.4 L212.4 973.5 L213.0 971.7 L213.5 969.9 L214.1 968.1 L214.7 966.3 L215.4 964.6 L216.1 962.9 L216.9 961.2 L217.7 959.6 L218.6 958.0 L219.4 956.5 L220.3 955.0 L221.3 953.5 L222.3 952.1 L223.3 950.7 L224.3 949.3 L225.3 948.0 L226.4 946.7 L227.5 945.5 L228.6 944.3 Z" fill="#000" stroke="#000" stroke-width="0.3" stroke-linejoin="round"/><path d="M199.2 1009.2 L 216.3 1023.5" fill="none" stroke="#000" stroke-width="3.4" stroke-linecap="round"/><path d="M224.2 997.4 C 217.6 1001, 214.6 1010, 216.3 1023.5" fill="none" stroke="#000" stroke-width="3.3" stroke-linecap="round"/></g>
</g>
</svg>
</div>
</body>
</html>
